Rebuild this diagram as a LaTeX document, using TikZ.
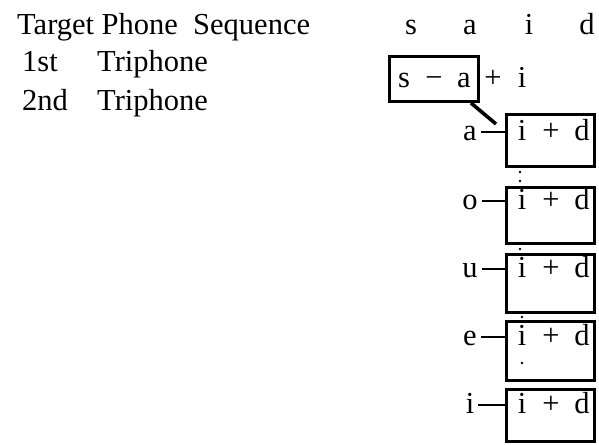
\documentclass[tikz,border=0pt]{standalone}
\usepackage{fontspec}
\setmainfont{Liberation Serif}
\begin{document}
\begin{tikzpicture}[x=1pt,y=-1pt,
  every node/.style={inner sep=0pt, font=\fontsize{30.5}{36}\selectfont},
  glyph/.style={anchor=base},
  lefttext/.style={anchor=base west},
  tribox/.style={draw, line width=3.2pt, minimum width=88pt},
  link/.style={line width=3.6pt},
  tickline/.style={line width=2pt},
  dotmark/.style={fill, circle, minimum size=2.8pt}]
\useasboundingbox (0,0) rectangle (599,444);

% left column labels
\node[lefttext] (title) at (17,35) {Target Phone\ \ Sequence};
\node[lefttext] (n1) at (22,71) {1st};
\node[lefttext] (t1) at (97,71) {Triphone};
\node[lefttext] (n2) at (22,110) {2nd};
\node[lefttext] (t2) at (97,110) {Triphone};

% target phone sequence
\node[glyph] (hs) at (411,35) {s};
\node[glyph] (ha) at (470,35) {a};
\node[glyph] (hi) at (529,35) {i};
\node[glyph] (hd) at (587,35) {d};

% first triphone s-a+i
\node[draw, line width=3.2pt, minimum width=88.8pt, minimum height=44.8pt] (b1) at (434,79) {};
\node[glyph] (b1s) at (404,87) {s};
\node[glyph] (b1m) at (434,87) {−};
\node[glyph] (b1a) at (464,87) {a};
\node[glyph] (b1p) at (493,87) {+};
\node[glyph] (b1i) at (522,87) {i};

% second triphone candidates x-i+d (outer top, outer bottom, baseline)
\foreach \name/\ctx/\top/\bot/\base in {ra/a/113/168/140, ro/o/186/245/209, ru/u/253/314/277, re/e/320/382/345, ri/i/388/443/413}{
  \node[tribox, minimum height=\bot-\top-3.2] (\name box) at (550.5,{(\top+\bot)/2}) {};
  \node[glyph] (\name) at (470,\base) {\ctx};
  \node[glyph] (\name i) at (522,\base) {i};
  \node[glyph] (\name p) at (551,\base) {+};
  \node[glyph] (\name d) at (582,\base) {d};
  \draw[tickline] ([shift={(4pt,8pt)}]\name.base east) -- ([yshift=8pt]\name.base -| \name box.west);
}

% link from the first triphone to the second
\coordinate (tip) at (496,124);
\draw[link] ([xshift=-9pt]b1.south east) -- (tip);

% dotted continuation marks
\node[dotmark] (d1) at (520,172) {};
\node[dotmark] (d2) at (520,181) {};
\node[dotmark] (d3) at (520,249) {};
\node[dotmark] (d4) at (522,317) {};
\node[dotmark] (d5) at (522,363) {};
\end{tikzpicture}
\end{document}
